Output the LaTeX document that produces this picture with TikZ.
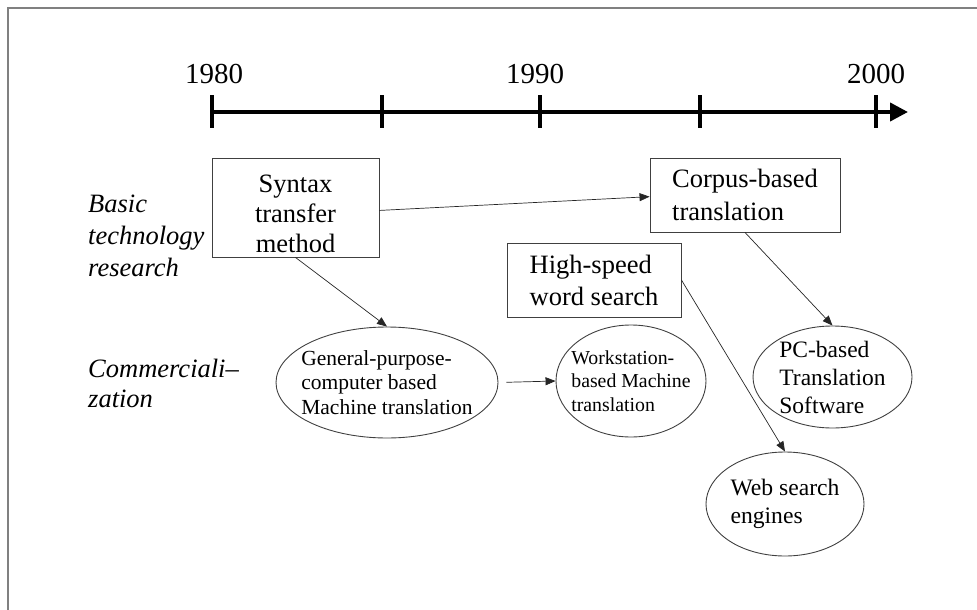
\documentclass[tikz,border=0pt]{standalone}
\usepackage{fontspec}
\setmainfont{Liberation Serif}
\usetikzlibrary{arrows.meta}
\usetikzlibrary{shapes.geometric}
\tikzset{
  tbox/.style={draw=black!75, line width=0.9pt, rectangle, inner sep=0pt},
  ebox/.style={draw=black!75, line width=0.9pt, ellipse, inner sep=-15pt, align=left},
  conn/.style={-{Triangle[length=10pt,width=8pt]}, line width=0.7pt, black!85},
  yearlabel/.style={anchor=base, font={\fontsize{29}{34}\selectfont}},
  rowlabel/.style={anchor=west, align=left, inner sep=0pt}
}

\begin{document}
\begin{tikzpicture}[x=1pt, y=-1pt]
\useasboundingbox (0,0) rectangle (977,610);
% frame
\draw[gray, line width=1.5pt] (8,610) -- (8,8) -- (977,8);
% time axis
\draw[line width=4pt, -{Triangle[length=18pt,width=18pt]}] (212,112) -- (908,112);
\foreach \x in {212,382,540,700,876}
  \draw[line width=4.5pt] (\x,95) -- (\x,128);
\node[yearlabel] (y1980) at (214,84) {1980};
\node[yearlabel] (y1990) at (535,84) {1990};
\node[yearlabel] (y2000) at (876,84) {2000};
% row labels
\node[rowlabel, font={\itshape\fontsize{26.5}{32}\selectfont}] (basic) at (88,236) {Basic\\technology\\research};
\node[rowlabel, font={\itshape\fontsize{26.5}{30}\selectfont}] (comm) at (88,383) {Commerciali--\\zation};
% research boxes
\node[tbox, minimum width=167pt, minimum height=99pt, align=center, font={\fontsize{26.5}{30}\selectfont}] (syntax) at (295.5,207.5) {\rule{0pt}{30pt}Syntax\\transfer\\method};
\node[tbox, minimum width=190pt, minimum height=74pt, align=left, font={\fontsize{26.5}{33}\selectfont}] (corpus) at (745,195) {Corpus-based\\translation};
\node[tbox, minimum width=174pt, minimum height=74pt, align=left, font={\fontsize{26.5}{32}\selectfont}] (highspeed) at (594,280) {High-speed\\word search};
% products
\node[ebox, minimum width=222pt, minimum height=111pt, font={\fontsize{21.5}{24.5}\selectfont}] (general) at (387,382.5) {General-purpose-\\computer based\\Machine translation};
\node[ebox, minimum width=150pt, minimum height=112pt, font={\fontsize{19.8}{23.5}\selectfont}] (wstation) at (631,381) {Workstation-\\based Machine\\translation};
\node[ebox, minimum width=159pt, minimum height=102pt, font={\fontsize{23.5}{28}\selectfont}] (pcsoft) at (832.5,377) {PC-based\\Translation\\Software};
\node[ebox, minimum width=158pt, minimum height=104pt, font={\fontsize{23.6}{28}\selectfont}] (websearch) at (785,504) {Web search\\engines};
% connectors
\draw[conn] (syntax.-2) -- (corpus.181);
\draw[conn] (syntax.south) -- (general.north);
\draw[conn] (corpus.south) -- (pcsoft.north);
\draw[conn] (highspeed.east) -- (websearch.north);
\draw[conn, shorten <=8pt] (general.east) -- (wstation.west);
\end{tikzpicture}
\end{document}
